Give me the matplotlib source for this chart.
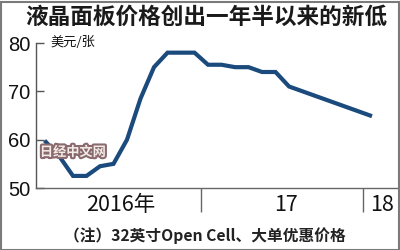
import matplotlib
matplotlib.use("Agg")
import matplotlib.pyplot as plt
import matplotlib.patheffects as pe

plt.rcParams['font.family'] = ['Noto Sans CJK SC', 'DejaVu Sans']

# Data: monthly LCD panel price (USD/panel), Jan 2016 - Jan 2018
months = list(range(25))
prices = [59.5, 56.5, 52.5, 52.5, 54.5, 55.0, 60.0, 68.5, 75.0, 78.0, 78.0, 78.0,
          75.5, 75.5, 75.0, 75.0, 74.0, 74.0, 71.0, 70.0, 69.0, 68.0, 67.0, 66.0, 65.0]
y_ticks = [50, 60, 70, 80]
year_labels = ["2016年", "17", "18"]
year_label_pos = [5.5, 17.8, 24.9]
year_bounds = [11.5, 23.5]

title = "液晶面板价格创出一年半以来的新低"
unit = "美元/张"
note = "（注）32英寸Open Cell、大单优惠价格"
watermark = "日经中文网"

W, H = 400, 250
fig = plt.figure(figsize=(W / 100, H / 100), dpi=100)

ax_l, ax_r, ax_t, ax_b = 36, 398, 43, 188
ax = fig.add_axes([ax_l / W, 1 - ax_b / H, (ax_r - ax_l) / W, (ax_b - ax_t) / H])
ax.set_xlim(-0.74, 26.07)
ax.set_ylim(50, 80)

ax.plot(months, prices, color='#1b4a7c', lw=3.0, solid_joinstyle='miter', zorder=3)

for s in ['top', 'right']:
    ax.spines[s].set_visible(False)
ax.spines['left'].set_color('#555555')
ax.spines['bottom'].set_color('#666666')
ax.spines['left'].set_linewidth(1.0)
ax.spines['bottom'].set_linewidth(1.0)

ax.set_yticks(y_ticks)
ax.set_yticklabels([str(v) for v in y_ticks], family=['Liberation Sans', 'DejaVu Sans'], fontsize=14.5)
ax.tick_params(axis='y', direction='in', length=6, width=1, color='#555555', pad=4, labelcolor='#111111')

ax.set_xticks(year_bounds)
ax.set_xticklabels([])
ax.tick_params(axis='x', which='major', direction='out', length=17, width=1, color='#666666')
ax.set_xticks(year_label_pos, minor=True)
ax.set_xticklabels(year_labels, minor=True,
                   family=['Noto Sans CJK SC', 'DejaVu Sans'], fontweight='light', fontsize=15.5)
ax.tick_params(axis='x', which='minor', length=0, pad=4, labelcolor='#111111')

fig.text(50 / W, 1 - 43 / H, unit, fontsize=9.5, va='center', ha='left', color='#111111')

fig.text(25 / W, 1 - 17 / H, title, fontsize=16.3, fontweight='heavy', va='center', ha='left', color='#1a1a1a')

fig.text(205 / W, 1 - 236 / H, note, fontsize=11.3, fontweight='bold', va='center', ha='center', color='#222222')

fig.text(73 / W, 1 - 152 / H, watermark, fontsize=9.5, fontweight='heavy', va='center', ha='center',
         color='#f3ece6', zorder=5,
         path_effects=[pe.withStroke(linewidth=3, foreground='#8a6a6e')])

fig.patches.append(plt.Rectangle((0.5 / W, 0.5 / H), (W - 2) / W, (H - 2) / H, transform=fig.transFigure,
                                 fill=False, edgecolor='#7a7a7a', lw=1.5))

fig.savefig('out.png', dpi=100)
